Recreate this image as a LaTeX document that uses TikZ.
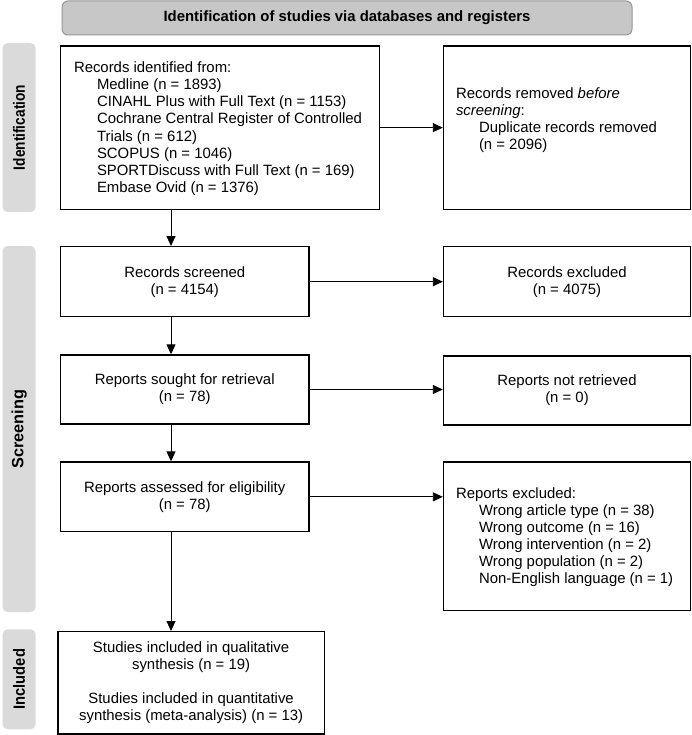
\documentclass[tikz,border=0pt]{standalone}
\usepackage{fontspec}
\setmainfont{Liberation Sans}
\usetikzlibrary{arrows.meta,calc}
\definecolor{headgray}{RGB}{199,199,199}
\definecolor{headborder}{RGB}{150,150,150}
\definecolor{sidegray}{RGB}{218,218,218}
\begin{document}
\begin{tikzpicture}[x=1pt,y=-1pt,
  box/.style={draw=black,line width=1.4pt,fill=white,inner sep=0pt},
  txt/.style={font=\fontsize{14.9}{17.1}\selectfont,inner sep=0pt},
  arr/.style={line width=0.9pt,-{Triangle[length=10pt,width=9pt]}},
  side/.style={fill=sidegray,rounded corners=5pt,inner sep=0pt,rotate=90,minimum height=33pt,
    font=\fontsize{16.3}{18}\selectfont\bfseries}]
\useasboundingbox (0,0) rectangle (692,735);

% header
\node[fill=headgray,draw=headborder,line width=1pt,rounded corners=6pt,minimum width=570pt,
  minimum height=34pt,inner sep=0pt,font=\fontsize{14.9}{17}\selectfont\bfseries] (hdr) at (347,18)
  {Identification of studies via databases and registers};

% side labels
\node[side,minimum width=169pt] (sid) at (19.1,127.5) {\scalebox{0.84}[1]{Identification}};
\node[side,minimum width=366pt] (sscr) at (19.1,429) {Screening};
\node[side,minimum width=100pt] (sinc) at (19.1,679.3) {\scalebox{0.905}[1]{Included}};

% boxes
\node[box,minimum width=319pt,minimum height=163.3pt] (b1) at (220,127.65) {};
\node[txt,anchor=west,align=left] (t1) at ($(b1.west)+(14,1)$) {Records identified from:\\
\hspace*{23pt}Medline (n = 1893)\\
\hspace*{23pt}CINAHL Plus with Full Text (n = 1153)\\
\hspace*{23pt}Cochrane Central Register of Controlled\\
\hspace*{23pt}Trials (n = 612)\\
\hspace*{23pt}SCOPUS (n = 1046)\\
\hspace*{23pt}SPORTDiscuss with Full Text (n = 169)\\
\hspace*{23pt}Embase Ovid (n = 1376)};

\node[box,minimum width=247pt,minimum height=163.3pt] (b2) at (567,127.65) {};
\node[txt,anchor=west,align=left] (t2) at ($(b2.west)+(13,-7.7)$) {Records removed \textit{before}\\
\textit{screening}:\\
\hspace*{23pt}Duplicate records removed\\
\hspace*{23pt}(n = 2096)};

\node[box,txt,align=center,minimum width=248.5pt,minimum height=70pt] (b3) at (184.75,281.7)
  {Records screened\\(n = 4154)};
\node[box,txt,align=center,minimum width=247pt,minimum height=70pt] (b4) at (567,281.7)
  {Records excluded\\(n = 4075)};

\node[box,txt,align=center,minimum width=248.5pt,minimum height=69pt] (b5) at (184.75,389.5)
  {Reports sought for retrieval\\(n = 78)};
\node[box,txt,align=center,minimum width=247pt,minimum height=69pt] (b6) at (567,390.5)
  {Reports not retrieved\\(n = 0)};

\node[box,txt,align=center,minimum width=248.5pt,minimum height=69.7pt] (b7) at (184.75,496.85)
  {Reports assessed for eligibility\\(n = 78)};
\node[box,minimum width=247pt,minimum height=148.7pt] (b8) at (567,536.35) {};
\node[txt,anchor=west,align=left] (t8) at ($(b8.west)+(13,1)$) {Reports excluded:\\
\hspace*{23pt}Wrong article type (n = 38)\\
\hspace*{23pt}Wrong outcome (n = 16)\\
\hspace*{23pt}Wrong intervention (n = 2)\\
\hspace*{23pt}Wrong population (n = 2)\\
\hspace*{23pt}Non-English language (n = 1)};

\node[box,txt,align=center,minimum width=266.6pt,minimum height=102.3pt] (b9) at (191.1,682.85)
  {Studies included in qualitative\\synthesis (n = 19)\\[17.1pt]Studies included in quantitative\\synthesis (meta-analysis) (n = 13)};

% connectors
\coordinate (ax) at (171,0);
\draw[arr] (ax |- b1.south) -- (ax |- b3.north);
\draw[arr] (ax |- b3.south) -- (ax |- b5.north);
\draw[arr] (ax |- b5.south) -- (ax |- b7.north);
\draw[arr] (ax |- b7.south) -- (ax |- b9.north);
\draw[arr] (b1.east) -- (b1.east -| b2.west);
\draw[arr] (b3.east) -- (b3.east -| b4.west);
\draw[arr] (b5.east) -- (b5.east -| b6.west);
\draw[arr] (b7.east) -- (b7.east -| b8.west);
\end{tikzpicture}
\end{document}
